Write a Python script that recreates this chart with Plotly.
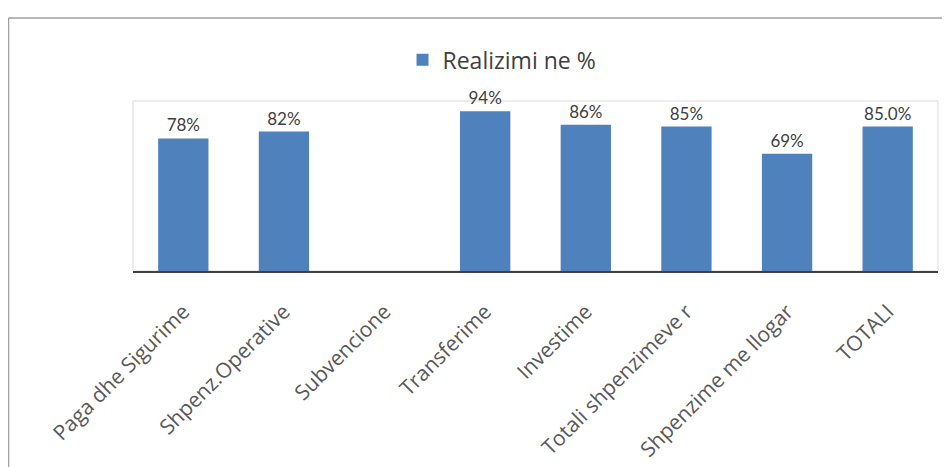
import plotly.graph_objects as go

categories = ["Paga dhe Sigurime", "Shpenz.Operative", "Subvencione", "Transferime",
              "Investime", "Totali shpenzimeve r", "Shpenzime me llogar", "TOTALI"]
values = [0.78, 0.82, None, 0.94, 0.86, 0.85, 0.69, 0.85]
labels = ["78%", "82%", "", "94%", "86%", "85%", "69%", "85.0%"]
series_name = "Realizimi ne %"

FONT = "Lato, 'Open Sans', sans-serif"

# page body adds an 8px margin; targets below are in screen pixels
OFF = 8
W, H = 950, 467
L, R, T, B = 133 - OFF, 938 - OFF, 101 - OFF, 274 - OFF
pw, ph = R - L, B - T


def px(x):
    return (x - OFF - L) / pw


def py(y):
    return (B - (y - OFF)) / ph


fig = go.Figure()
fig.add_trace(go.Bar(
    x=categories, y=values, name=series_name,
    marker=dict(color="#4f81bd", line=dict(width=0)),
    text=labels, textposition="outside", cliponaxis=False,
    textfont=dict(family=FONT, size=17, color="#404040"),
    showlegend=True,
))

shapes = [
    # outer chart frame (left and top edges visible)
    dict(type="line", xref="paper", yref="paper", x0=px(8.5), x1=px(8.5), y0=py(16.5), y1=py(480),
         line=dict(color="#a0a0a0", width=1.5)),
    dict(type="line", xref="paper", yref="paper", x0=px(8.5), x1=px(965), y0=py(16.5), y1=py(16.5),
         line=dict(color="#a0a0a0", width=1.5)),
    # plot area border
    dict(type="rect", xref="paper", yref="paper", x0=0, x1=1, y0=0, y1=1,
         line=dict(color="#d9d9d9", width=1), layer="below"),
]

fig.update_layout(
    width=W, height=H,
    margin=dict(l=L, r=W - R, t=T, b=H - B),
    paper_bgcolor="white", plot_bgcolor="white",
    bargap=0.5,
    font=dict(family=FONT, color="#595959"),
    legend=dict(orientation="h", x=px(502), y=py(59), xanchor="center", yanchor="middle",
                font=dict(family="'Open Sans', sans-serif", size=23, color="#404040"),
                itemwidth=30),
    xaxis=dict(tickangle=-45, tickfont=dict(family="'Open Sans', sans-serif", size=21, color="#595959"),
               ticklabelstandoff=18,
               showline=True, linecolor="#404040", linewidth=2, ticks="", showgrid=False),
    yaxis=dict(range=[0, 1], visible=False, showgrid=False, zeroline=False),
    shapes=shapes,
)

fig.write_html("out.html")
